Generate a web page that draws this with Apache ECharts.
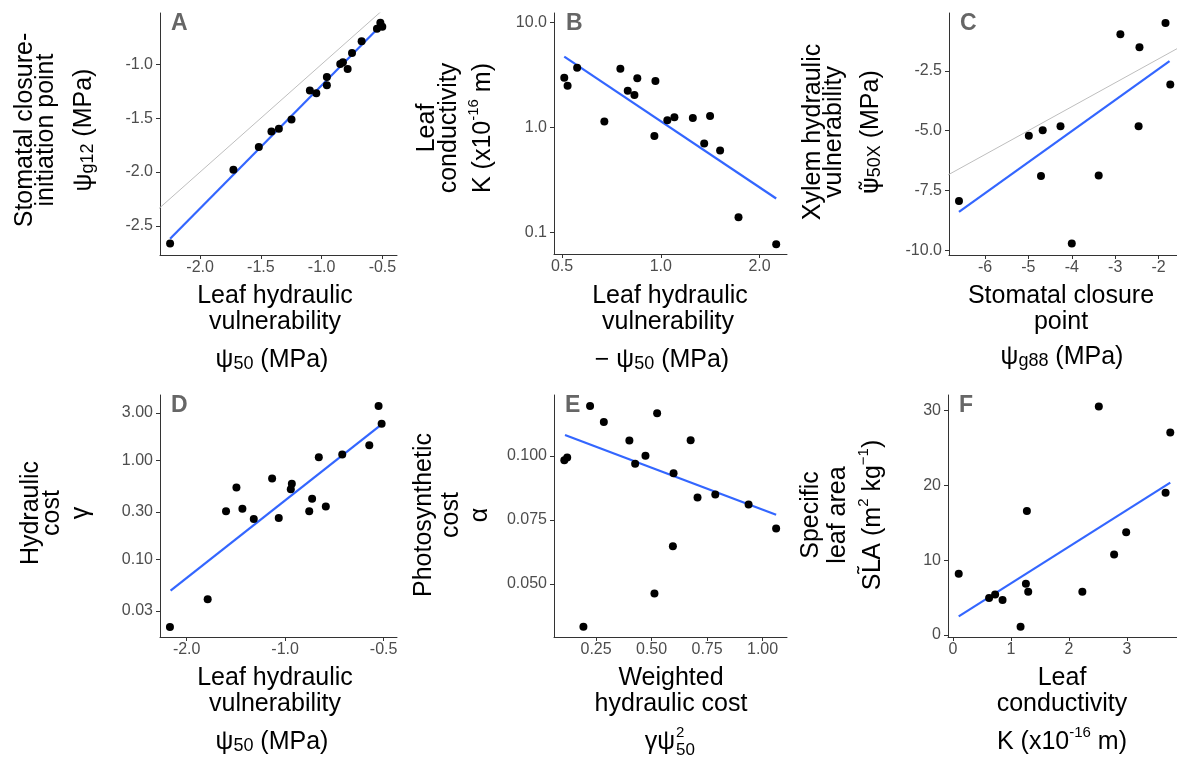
<!DOCTYPE html>
<html><head><meta charset="utf-8">
<script src="https://cdn.jsdelivr.net/npm/echarts@6/dist/echarts.min.js"></script>
<style>html,body{margin:0;padding:0;background:#fff}#c{width:1177px;height:758px}</style>
</head><body><div id="c"></div>
<script>
// ---------------- data ----------------
// Panel A
const aX = [-2.247,-1.726,-1.517,-1.413,-1.352,-1.248,-1.097,-1.044,-0.957,-0.957,-0.847,-0.825,-0.786,-0.750,-0.671,-0.545,-0.517,-0.501];
const aY = [-2.664,-1.979,-1.769,-1.624,-1.599,-1.513,-1.244,-1.269,-1.118,-1.195,-0.997,-0.981,-1.044,-0.895,-0.787,-0.670,-0.615,-0.652];
const aFitX = [-2.247,-0.509];
const aFitY = [-2.62,-0.636];
const aXRange = [-2.33,-0.38];
const aYRange = [-2.77,-0.525];
const aXTicks = [-2.0,-1.5,-1.0,-0.5];
const aXLabels = ['-2.0','-1.5','-1.0','-0.5'];
const aYTicks = [-2.5,-2.0,-1.5,-1.0];
const aYLabels = ['-2.5','-2.0','-1.5','-1.0'];
// Panel B (log axes)
const bX = [0.508,0.520,0.556,0.673,0.753,0.793,0.831,0.848,0.963,0.956,1.047,1.10,1.252,1.413,1.356,1.516,1.725,2.247];
const bY = [2.97,2.49,3.70,1.14,3.62,2.23,2.03,2.93,2.77,0.826,1.17,1.25,1.23,1.28,0.703,0.603,0.139,0.077];
const bFitX = [0.508,2.247];
const bFitY = [4.72,0.210];
const bXRange = [0.4727,2.424];
const bYRange = [0.0621,12.3];
const bXTicks = [0.5,1,2];
const bXLabels = ['0.5','1.0','2.0'];
const bYTicks = [0.1,1,10];
const bYLabels = ['0.1','1.0','10.0'];
// Panel C
const cX = [-6.60,-4.99,-4.67,-4.71,-4.26,-4.00,-3.38,-2.88,-2.44,-2.46,-1.84,-1.73];
const cY = [-7.94,-5.21,-4.98,-6.90,-4.82,-9.72,-6.875,-0.97,-1.51,-4.82,-0.50,-3.07];
const cFitX = [-6.60,-1.747];
const cFitY = [-8.40,-2.096];
const cXRange = [-6.83,-1.575];
const cYRange = [-10.2,-0.083];
const cXTicks = [-6,-5,-4,-3,-2];
const cXLabels = ['-6','-5','-4','-3','-2'];
const cYTicks = [-10,-7.5,-5,-2.5];
const cYLabels = ['-10.0','-7.5','-5.0','-2.5'];
// Panel D (x: reversed log of -x, y: log)
const dX = [-2.25,-1.725,-1.516,-1.409,-1.351,-1.247,-1.096,-1.046,-0.954,-0.961,-0.844,-0.827,-0.789,-0.751,-0.669,-0.553,-0.518,-0.507];
const dY = [0.0207,0.0394,0.305,0.530,0.322,0.255,0.653,0.260,0.576,0.509,0.305,0.407,1.07,0.340,1.14,1.41,3.51,2.33];
const dFitX = [-2.24,-0.507];
const dFitY = [0.0483,2.29];
const dXRange = [-2.413,-0.455];
const dYRange = [0.0164,4.54];
const dXTicks = [-2,-1,-0.5];
const dXLabels = ['-2.0','-1.0','-0.5'];
const dYTicks = [0.03,0.1,0.3,1,3];
const dYLabels = ['0.03','0.10','0.30','1.00','3.00'];
// Panel E
const eX = [0.107,0.120,0.193,0.223,0.285,0.400,0.426,0.4725,0.525,0.513,0.599,0.596,0.676,0.707,0.787,0.937,1.061];
const eY = [0.0983,0.0994,0.0332,0.1195,0.1132,0.1060,0.0969,0.1001,0.1167,0.0462,0.0932,0.0647,0.1061,0.0837,0.0849,0.0810,0.0716];
const eFitX = [0.110,1.061];
const eFitY = [0.1082,0.0770];
const eXRange = [0.0605,1.11];
const eYRange = [0.0292,0.1238];
const eXTicks = [0.25,0.5,0.75,1.0];
const eXLabels = ['0.25','0.50','0.75','1.00'];
const eYTicks = [0.05,0.075,0.1];
const eYLabels = ['0.050','0.075','0.100'];
// Panel F
const fX = [0.099,0.623,0.727,0.855,1.166,1.258,1.275,1.298,2.232,2.516,2.78,2.988,3.668,3.749];
const fY = [8.18,4.94,5.42,4.67,1.11,6.85,16.6,5.78,5.78,30.57,10.76,13.75,19.04,27.1];
const fFitX = [0.099,3.749];
const fFitY = [2.48,20.37];
const fXRange = [-0.086,3.865];
const fYRange = [-0.27,32.1];
const fXTicks = [0,1,2,3];
const fXLabels = ['0','1','2','3'];
const fYTicks = [0,10,20,30];
const fYLabels = ['0','10','20','30'];
// panel letters and titles
const panelLetters = ['A','B','C','D','E','F'];
const xTitles = [
  ['Leaf hydraulic','vulnerability','ψ{sub|50} (MPa)'],
  ['Leaf hydraulic','vulnerability','− ψ{sub|50} (MPa)'],
  ['Stomatal closure','point','ψ{sub|g88} (MPa)'],
  ['Leaf hydraulic','vulnerability','ψ{sub|50} (MPa)'],
  ['Weighted','hydraulic cost',null],
  ['Leaf','conductivity','K (x10{sup|-16} m)']
];
const yTitles = [
  ['Stomatal closure-','initiation point','ψ{sub|g12} (MPa)'],
  ['Leaf','conductivity','K (x10{sup|-16} m)'],
  ['Xylem hydraulic','vulnerability','{psi|ψ̃}{sub|50X} (MPa)'],
  ['Hydraulic','cost','γ'],
  ['Photosynthetic','cost','α'],
  ['Specific','leaf area','S{dj|L̃}A (m{sup|2} kg{sup|−1})']
];

// ---------------- layout ----------------
const FONT = '"Liberation Sans", Arial, sans-serif';
const lin = v => v;
const lg = v => Math.log10(v);
const nlg = v => -Math.log10(-v);

const panels = [
  {g:[160,13,237,242], x:aX, y:aY, fx:aFitX, fy:aFitY, xr:aXRange, yr:aYRange, xt:aXTicks, xl:aXLabels, yt:aYTicks, yl:aYLabels, tx:lin, ty:lin, id:true},
  {g:[554,13,233,241], x:bX, y:bY, fx:bFitX, fy:bFitY, xr:bXRange, yr:bYRange, xt:bXTicks, xl:bXLabels, yt:bYTicks, yl:bYLabels, tx:lg, ty:lg, id:false},
  {g:[949,13,228,242], x:cX, y:cY, fx:cFitX, fy:cFitY, xr:cXRange, yr:cYRange, xt:cXTicks, xl:cXLabels, yt:cYTicks, yl:cYLabels, tx:lin, ty:lin, id:true},
  {g:[160,395,237,242], x:dX, y:dY, fx:dFitX, fy:dFitY, xr:dXRange, yr:dYRange, xt:dXTicks, xl:dXLabels, yt:dYTicks, yl:dYLabels, tx:nlg, ty:lg, id:false},
  {g:[554,395,233,242], x:eX, y:eY, fx:eFitX, fy:eFitY, xr:eXRange, yr:eYRange, xt:eXTicks, xl:eXLabels, yt:eYTicks, yl:eYLabels, tx:lin, ty:lin, id:false},
  {g:[948,395,229,242], x:fX, y:fY, fx:fFitX, fy:fFitY, xr:fXRange, yr:fYRange, xt:fXTicks, xl:fXLabels, yt:fYTicks, yl:fYLabels, tx:lin, ty:lin, id:false}
];

function fmt(vals, labs){
  return function(v){
    let b = 0;
    for (let k = 1; k < vals.length; k++) if (Math.abs(vals[k]-v) < Math.abs(vals[b]-v)) b = k;
    return labs[b];
  };
}
const axisCommon = (idx) => ({
  type:'value', gridIndex: idx, scale:true,
  axisLine:{show:true, onZero:false, lineStyle:{color:'#333', width:1}},
  splitLine:{show:false}
});

const grids = [], xAxes = [], yAxes = [], series = [];
panels.forEach((p, i) => {
  grids.push({left:p.g[0], top:p.g[1], width:p.g[2], height:p.g[3], containLabel:false, outerBoundsMode:'none'});
  const xv = p.xt.map(p.tx), yv = p.yt.map(p.ty);
  xAxes.push(Object.assign(axisCommon(i), {
    min: p.tx(p.xr[0]), max: p.tx(p.xr[1]),
    axisTick:{show:true, inside:false, length:4, customValues:xv, lineStyle:{color:'#333'}},
    axisLabel:{show:true, customValues:xv, formatter:fmt(xv, p.xl), margin:5, color:'#4D4D4D', fontSize:16, fontFamily:FONT}
  }));
  yAxes.push(Object.assign(axisCommon(i), {
    min: p.ty(p.yr[0]), max: p.ty(p.yr[1]),
    axisTick:{show:true, inside:false, length:4, customValues:yv, lineStyle:{color:'#333'}},
    axisLabel:{show:true, customValues:yv, formatter:fmt(yv, p.yl), margin:7, color:'#4D4D4D', fontSize:16, fontFamily:FONT}
  }));
  if (p.id) {
    series.push({type:'line', xAxisIndex:i, yAxisIndex:i, data:[[p.xr[0]-1,p.xr[0]-1],[p.xr[1]+1,p.xr[1]+1]],
      symbol:'none', clip:true, silent:true, lineStyle:{color:'#BEBEBE', width:1}, z:1});
  }
  series.push({type:'line', xAxisIndex:i, yAxisIndex:i,
    data: p.fx.map((v,k)=>[p.tx(v), p.ty(p.fy[k])]),
    symbol:'none', clip:true, silent:true, lineStyle:{color:'#3366FF', width:2.2}, z:2});
  series.push({type:'scatter', xAxisIndex:i, yAxisIndex:i,
    data: p.x.map((v,k)=>[p.tx(v), p.ty(p.y[k])]),
    symbol:'circle', symbolSize:8, silent:true, itemStyle:{color:'#000', opacity:1}, z:3});
});

// ---------------- text (titles, letters) ----------------
const RICH = {
  sub:{fontSize:18, fontFamily:FONT, fill:'#000', padding:[8,0,0,0]},
  sup:{fontSize:15, fontFamily:FONT, fill:'#000', padding:[0,0,18,0]},
  psi:{fontSize:25, fontFamily:'"DejaVu Sans"', fill:'#000'},
  dj:{fontSize:25, fontFamily:'"DejaVu Sans"', fill:'#000'}
};
const gfx = [];
function txt(x, y, text, o){
  o = o || {};
  gfx.push({type:'text', x:x, y:y, rotation: o.rot ? Math.PI/2 : 0, silent:true, z:10,
    style:{text:text, fontSize:o.size||25, fontFamily:FONT, fontWeight:o.weight||'normal',
      fill:o.color||'#000', align:o.align||'center', verticalAlign:'middle', rich:RICH}});
}
// x-title positions [line1 x,y ; line2 ; formula]
const xTitlePos = [
  [[275,296],[275,322],[272,360]],
  [[670,296],[668,322],[662,360]],
  [[1061,296],[1061,322],[1062,357]],
  [[275,678],[275,704],[272,742]],
  [[671,678],[671,704],[670,742]],
  [[1062,678],[1062,704],[1062,742]]
];
const yTitlePos = [
  [[25,46,84],130],
  [[427,449,483],128],
  [[813,834,871],132],
  [[31,52,81],513],
  [[424,451,480],515],
  [[811,838,873],515]
];
xTitles.forEach((t, i) => {
  t.forEach((s, k) => { if (s) txt(xTitlePos[i][k][0], xTitlePos[i][k][1], s); });
  const yp = yTitlePos[i];
  yTitles[i].forEach((s, k) => txt(yp[0][k], yp[1], s, {rot:true}));
});
// E formula: gamma psi with stacked superscript 2 and subscript 50
txt(675, 742, 'γψ', {align:'right'});
txt(676, 733, '2', {align:'left', size:15});
txt(676, 750, '50', {align:'left', size:17});
// panel letters
const letterPos = [[171,24],[566,24],[960,24],[171,406],[565,406],[959,406]];
panelLetters.forEach((L, i) => txt(letterPos[i][0], letterPos[i][1], L, {align:'left', size:23, weight:'bold', color:'#666'}));

const chart = echarts.init(document.getElementById('c'), null, {renderer:'canvas'});
chart.setOption({
  animation:false, backgroundColor:'#fff',
  grid:grids, xAxis:xAxes, yAxis:yAxes, series:series,
  graphic:{elements:gfx}
});
</script></body></html>
